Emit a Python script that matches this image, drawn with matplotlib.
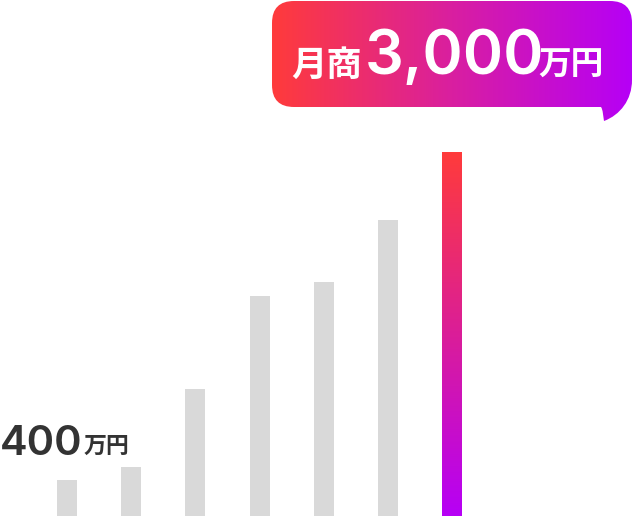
import numpy as np
import matplotlib
matplotlib.use("Agg")
import matplotlib.pyplot as plt
from matplotlib.path import Path
from matplotlib.patches import PathPatch
from matplotlib.colors import LinearSegmentedColormap

# ---- data ----
categories = ["1", "2", "3", "4", "5", "6", "7"]
values = [300, 400, 1050, 1810, 1930, 2440, 3000]
low_label_num = "400"
high_label_num = "3,000"
unit = "万円"
prefix = "月商"

GRAY = "#d9d9d9"
RED = "#ff3b3b"
PURPLE = "#b600f6"
DARK = "#333333"

W, H = 632, 516
fig = plt.figure(figsize=(W / 100, H / 100), dpi=100)

# bar axes spanning the whole figure
ax = fig.add_axes([0, 0, 1, 1])
step = 64.17
x0 = 67.0
ax.set_xlim(-x0 / step, (W - x0) / step)
ax.set_ylim(0, H * 3000 / 364)
ax.axis("off")

xs = np.arange(len(categories))
bars = ax.bar(xs, values, width=20 / step, color=[GRAY] * (len(values) - 1) + ["none"],
              edgecolor="none")

cmap = LinearSegmentedColormap.from_list("g", [PURPLE, RED])
grad = np.linspace(0, 1, 256).reshape(-1, 1)
last = bars[-1]
bx, bw, bh = last.get_x(), last.get_width(), last.get_height()
im = ax.imshow(grad, cmap=cmap, aspect="auto", origin="lower",
               extent=(bx, bx + bw, 0, bh), zorder=3)
im.set_clip_path(last)

# overlay axes in pixel coordinates for the callout
ov = fig.add_axes([0, 0, 1, 1])
ov.set_xlim(0, W)
ov.set_ylim(H, 0)
ov.axis("off")
ov.patch.set_alpha(0)

L, R, T, B, r = 272, 632, 1, 107, 22
verts = [
    (L + r, T),
    (R - r, T),
    (R, T), (R, T + r),
    (R, 80),
    (R, 100), (620, 115), (604, 121),
    (603, 115), (603, 110), (601, B),
    (L + r, B),
    (L, B), (L, B - r),
    (L, T + r),
    (L, T), (L + r, T),
    (L + r, T),
]
codes = [
    Path.MOVETO,
    Path.LINETO,
    Path.CURVE3, Path.CURVE3,
    Path.LINETO,
    Path.CURVE4, Path.CURVE4, Path.CURVE4,
    Path.CURVE4, Path.CURVE4, Path.CURVE4,
    Path.LINETO,
    Path.CURVE3, Path.CURVE3,
    Path.LINETO,
    Path.CURVE3, Path.CURVE3,
    Path.CLOSEPOLY,
]
bubble = PathPatch(Path(verts, codes), facecolor="none", edgecolor="none")
ov.add_patch(bubble)
hgrad = np.linspace(0, 1, 256).reshape(1, -1)
cmap2 = LinearSegmentedColormap.from_list("h", [RED, "#d91fa0", PURPLE])
im2 = ov.imshow(hgrad, cmap=cmap2, aspect="auto",
                extent=(L, R, 125, 0), zorder=2)
im2.set_clip_path(bubble)

cjk = ["Noto Sans CJK JP", "DejaVu Sans"]
lat = ["Inter", "DejaVu Sans"]

ov.text(291, 76, prefix, color="white", fontsize=25.5, fontweight="bold",
        family=cjk, va="baseline", ha="left", zorder=5)
ov.text(365, 74, high_label_num, color="white", fontsize=44, fontweight="semibold",
        family=lat, va="baseline", ha="left", zorder=5)
ov.text(538, 75, unit, color="white", fontsize=23.5, fontweight="bold",
        family=cjk, va="baseline", ha="left", zorder=5)

ov.text(0, 455, low_label_num, color=DARK, fontsize=30, fontweight="semibold",
        family=lat, va="baseline", ha="left", zorder=5)
ov.text(84, 453, unit, color=DARK, fontsize=16.5, fontweight="bold",
        family=cjk, va="baseline", ha="left", zorder=5)

fig.savefig("out.png", dpi=100)
